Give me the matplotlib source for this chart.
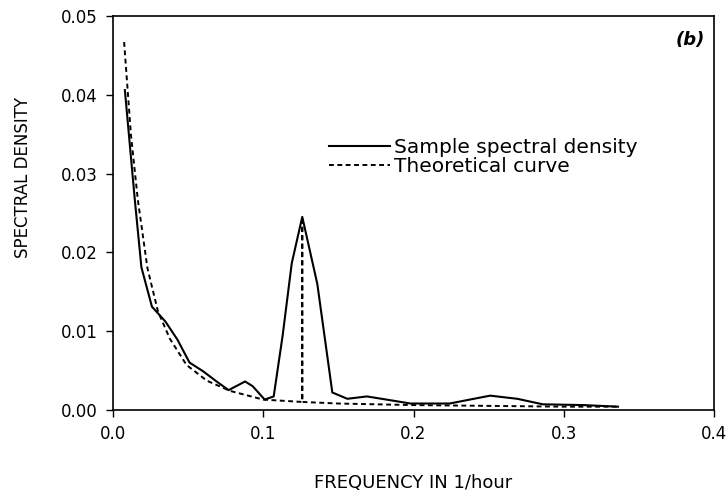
import matplotlib
matplotlib.use("Agg")
import matplotlib.pyplot as plt

# sample spectral density (solid)
freq_sample = [0.008, 0.0146, 0.019, 0.026, 0.035, 0.043, 0.051, 0.060, 0.069,
               0.077, 0.083, 0.088, 0.093, 0.101, 0.107, 0.113, 0.119, 0.126,
               0.136, 0.146, 0.156, 0.169, 0.182, 0.198, 0.224, 0.251, 0.269,
               0.286, 0.313, 0.336]
dens_sample = [0.0406, 0.0267, 0.0181, 0.0131, 0.0112, 0.0089, 0.0060, 0.0049,
               0.0036, 0.0025, 0.0031, 0.0036, 0.0030, 0.0013, 0.0017, 0.0095,
               0.0186, 0.0245, 0.0160, 0.0022, 0.0014, 0.0017, 0.0013, 0.0008,
               0.0008, 0.0018, 0.0014, 0.0007, 0.0006, 0.0004]

# theoretical curve (dashed), with spike at the tidal frequency
freq_theory = [0.0075, 0.012, 0.0166, 0.023, 0.030, 0.038, 0.049, 0.0625,
               0.078, 0.100, 0.126, 0.126, 0.126, 0.15, 0.20, 0.25, 0.30, 0.336]
dens_theory = [0.0467, 0.0350, 0.0267, 0.0180, 0.0125, 0.0090, 0.0057, 0.0037,
               0.0024, 0.0013, 0.0010, 0.0245, 0.0010, 0.0008, 0.0006, 0.0005,
               0.0004, 0.0004]

x_ticks = [0.0, 0.1, 0.2, 0.3, 0.4]
x_tick_labels = ["0.0", "0.1", "0.2", "0.3", "0.4"]
y_ticks = [0.0, 0.01, 0.02, 0.03, 0.04, 0.05]
y_tick_labels = ["0.00", "0.01", "0.02", "0.03", "0.04", "0.05"]

plt.rcParams['font.family'] = ['DejaVu Sans']

fig = plt.figure(figsize=(7.28, 5.01), dpi=100)
ax = fig.add_axes([0.155, 0.182, 0.826, 0.786])

ax.plot(freq_sample, dens_sample, color="black", linewidth=1.5,
        label="Sample spectral density")
ax.plot(freq_theory, dens_theory, color="black", linewidth=1.4,
        linestyle=(0, (2.5, 1.8)), label="Theoretical curve")

ax.set_xlim(0, 0.4)
ax.set_ylim(0, 0.05)
ax.set_xticks(x_ticks)
ax.set_xticklabels(x_tick_labels)
ax.set_yticks(y_ticks)
ax.set_yticklabels(y_tick_labels)
ax.tick_params(direction="out", length=5, width=1, labelsize=12, pad=6)

for s in ax.spines.values():
    s.set_linewidth(1.2)

ax.set_xlabel("FREQUENCY IN 1/hour", fontsize=13, labelpad=22)
ax.set_ylabel("SPECTRAL DENSITY", fontsize=12)
ax.yaxis.set_label_coords(-0.135, 0.59)

ax.text(0.985, 0.94, "(b)", transform=ax.transAxes, ha="right", va="center",
        fontsize=13, fontweight="bold", fontstyle="italic")

ax.legend(loc="upper left", bbox_to_anchor=(0.36, 0.69), frameon=False,
          fontsize=14.5, handlelength=3.0, handletextpad=0.2, labelspacing=0.0,
          borderaxespad=0, borderpad=0)

fig.savefig("out.png", dpi=100)
